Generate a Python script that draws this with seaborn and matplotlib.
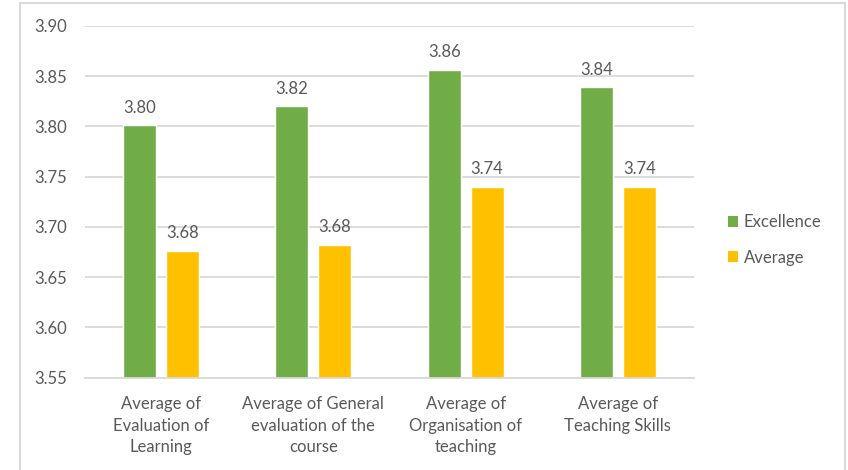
import pandas as pd
import matplotlib.pyplot as plt
import seaborn as sns
from matplotlib.patches import Patch, Rectangle

# data
categories = ['Average of\nEvaluation of\nLearning',
              'Average of General\nevaluation of the\ncourse',
              'Average of\nOrganisation of\nteaching',
              'Average of\nTeaching Skills']
excellence = [3.801, 3.820, 3.856, 3.839]
average = [3.676, 3.682, 3.740, 3.740]
series = ['Excellence', 'Average']
colors = ['#70AD47', '#FFC000']

df = pd.DataFrame({'category': categories * 2,
                   'score': excellence + average,
                   'group': ['Excellence'] * 4 + ['Average'] * 4})

sns.set_style('white')
plt.rcParams['font.family'] = ['Lato', 'DejaVu Sans']
text_col = '#595959'
fs = 12

fig = plt.figure(figsize=(8.48, 4.70), dpi=100)
ax = fig.add_axes([85/848, 1 - 377.7/470, (694 - 85)/848, (377.7 - 26)/470])

sns.barplot(data=df, x='category', y='score', hue='group', hue_order=series,
            palette=colors, width=0.564, gap=0.23, ax=ax, legend=False,
            saturation=1)

ax.set_ylim(3.55, 3.90)
ax.set_yticks([3.55, 3.60, 3.65, 3.70, 3.75, 3.80, 3.85, 3.90])
ax.set_yticklabels(['%.2f' % t for t in ax.get_yticks()])
ax.set_xlabel('')
ax.set_ylabel('')
ax.yaxis.grid(True, color='#D9D9D9', linewidth=1.3)
ax.set_axisbelow(True)
for s in ['left', 'right', 'top']:
    ax.spines[s].set_visible(False)
ax.spines['bottom'].set_color('#D9D9D9')
ax.spines['bottom'].set_linewidth(1.3)
ax.tick_params(axis='y', length=0, pad=13, labelsize=fs, labelcolor=text_col)
ax.tick_params(axis='x', length=0, pad=13, labelsize=fs, labelcolor=text_col)
for lab in ax.get_xticklabels():
    lab.set_linespacing(1.45)

# value labels on top of the bars
for cont in ax.containers:
    ax.bar_label(cont, fmt='%.2f', padding=7, fontsize=fs, color=text_col)

handles = [Patch(facecolor=c, edgecolor='none') for c in colors]
fig.legend(handles, series, loc='center left', bbox_to_anchor=(713/848, 1 - 240/470),
           frameon=False, fontsize=fs, labelcolor=text_col,
           handlelength=0.6, handleheight=0.6, handletextpad=0.35,
           labelspacing=1.15)

# light border round the chart
fig.patches.append(Rectangle((20/848, -0.02), (845 - 20)/848, 1.02 - 3/470,
                             transform=fig.transFigure, fill=False,
                             edgecolor='#D9D9D9', linewidth=1.5))

plt.savefig('out.png', dpi=100)
